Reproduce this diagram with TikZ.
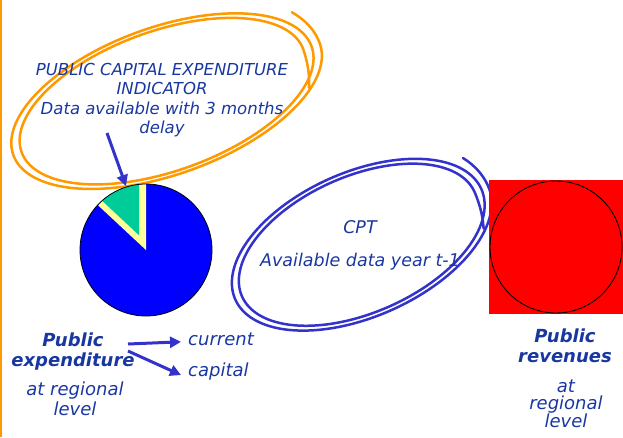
\documentclass[tikz,border=0pt]{standalone}
\usepackage{fontspec}
\setmainfont{DejaVu Sans}[ItalicFont={DejaVu Sans Oblique},BoldFont={DejaVu Sans Bold},BoldItalicFont={DejaVu Sans Bold Oblique}]
\usetikzlibrary{arrows.meta}
\definecolor{penorange}{RGB}{255,153,0}
\definecolor{penblue}{RGB}{51,51,204}
\definecolor{txtblue}{RGB}{25,55,160}
\definecolor{pieblue}{RGB}{0,0,255}
\definecolor{piegreen}{RGB}{0,204,153}
\definecolor{pieyellow}{RGB}{255,255,153}
\definecolor{boxred}{RGB}{255,0,0}
\newcommand{\hcx}{0}\newcommand{\hcy}{0}\newcommand{\hai}{0}\newcommand{\hbi}{0}
\newcommand{\hao}{0}\newcommand{\hbo}{0}\newcommand{\hph}{0}
\begin{document}
\begin{tikzpicture}[x=1pt,y=-1pt,
  txt/.style={text=txtblue,inner sep=0pt,align=center,font=\itshape},
  pen/.style={line width=2.5pt,line cap=round,line join=round},
  arr/.style={penblue,line width=3pt,-{Triangle[length=11pt,width=11pt]}},
  declare function={
    pr(\t)=(30-\t)/780;
    fl(\t)=1+0.10*(max(0,\t/30))^2+0.04*(max(0,(-720-\t)/30))^2;
    hu(\t)=fl(\t)*(\hai+(\hao-\hai)*pr(\t))*cos(\t);
    hv(\t)=fl(\t)*(\hbi+(\hbo-\hbi)*pr(\t))*sin(\t);
  }]
\useasboundingbox (0,0) rectangle (623,437);
% left edge line
\draw[penorange,line width=2pt] (1,0) -- (1,437);

% orange hand-drawn ellipse
\renewcommand{\hcx}{164.5}\renewcommand{\hcy}{100}
\renewcommand{\hai}{147}\renewcommand{\hbi}{68}
\renewcommand{\hao}{166}\renewcommand{\hbo}{76}
\renewcommand{\hph}{19.8}
\draw[penorange,pen] plot[domain=30:-750,samples=420,variable=\t]
  ({\hcx+hu(\t)*cos(\hph)+hv(\t)*sin(\hph)},{\hcy-hu(\t)*sin(\hph)+hv(\t)*cos(\hph)});

% blue hand-drawn ellipse
\renewcommand{\hcx}{360}\renewcommand{\hcy}{243.5}
\renewcommand{\hai}{125}\renewcommand{\hbi}{66}
\renewcommand{\hao}{141}\renewcommand{\hbo}{75}
\renewcommand{\hph}{23.9}
\draw[penblue,pen] plot[domain=30:-748,samples=420,variable=\t]
  ({\hcx+hu(\t)*cos(\hph)+hv(\t)*sin(\hph)},{\hcy-hu(\t)*sin(\hph)+hv(\t)*cos(\hph)});

% pie chart
\coordinate (piec) at (146,250);
\fill[pieblue] (piec) circle[radius=66];
\fill[pieyellow] (piec) -- ++(-90:66) arc[start angle=-90,end angle=-137,radius=66] -- cycle;
\fill[piegreen] (139,235.2) -- (139,184.4) arc[start angle=-96.1,end angle=-131.7,radius=66] -- cycle;
\draw[black,line width=0.8pt] (piec) circle[radius=66];
\coordinate (greentip) at (126,186);

% red box with circle
\fill[boxred] (489,180) rectangle (623,314);
\draw[black,line width=0.9pt] (556,247) circle[radius=66];

% texts
\node[txt,font=\itshape\fontsize{16.5}{19.3}\selectfont] (pcei) at (162,100)
  {PUBLIC CAPITAL EXPENDITURE\\INDICATOR\\Data available with 3 months\\delay};
\node[txt,font=\itshape\fontsize{17.5}{33}\selectfont] (cpt) at (360,245)
  {CPT\\Available data year t-1};
\node[txt,font=\bfseries\itshape\fontsize{18}{20}\selectfont] (pubexp) at (73,352)
  {Public\\expenditure};
\node[txt,font=\itshape\fontsize{18}{20}\selectfont] (explevel) at (75,399)
  {at regional\\level};
\node[txt,font=\itshape\fontsize{18}{20}\selectfont,anchor=base west] (current) at (188,345) {current};
\node[txt,font=\itshape\fontsize{18}{20}\selectfont,anchor=base west] (capital) at (188,376) {capital};
\node[txt,font=\bfseries\itshape\fontsize{18}{20}\selectfont] (pubrev) at (565,346)
  {Public\\revenues};
\node[txt,font=\itshape\fontsize{18}{16.5}\selectfont] (revlevel) at (566,404)
  {at\\regional\\level};

% arrows
\coordinate (indstart) at (107,133);
\draw[arr] (indstart) -- (greentip);
\coordinate (pe1) at (128,344);
\coordinate (pe2) at (128,351);
\draw[arr] (pe1) -- ([xshift=-7pt,yshift=-3pt]current.west);
\draw[arr] (pe2) -- ([xshift=-7pt,yshift=-4pt]capital.west);
\end{tikzpicture}
\end{document}
